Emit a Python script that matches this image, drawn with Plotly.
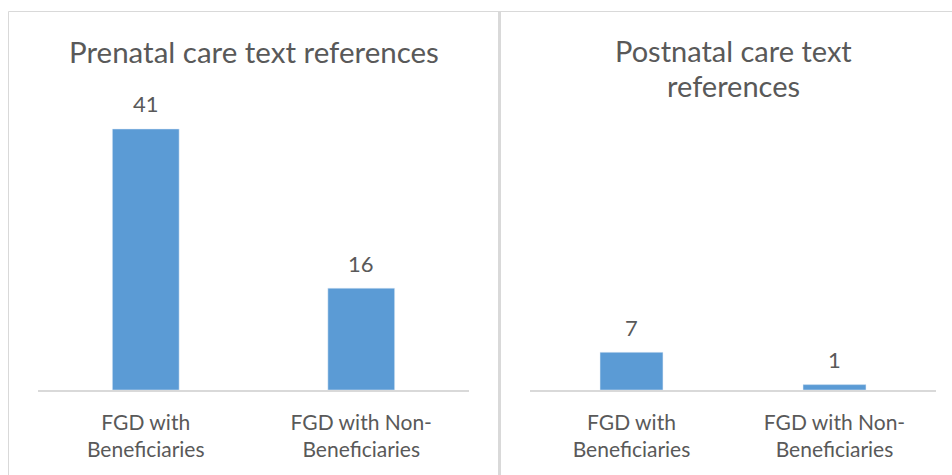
import plotly.graph_objects as go

# ---- data ----
categories = ["FGD with<br>Beneficiaries", "FGD with Non-<br>Beneficiaries"]
prenatal_values = [41, 16]
postnatal_values = [7, 1]
prenatal_title = "Prenatal care text references"
postnatal_title_lines = ["Postnatal care text", "references"]

W, H = 952, 475
BAR = "#5B9BD5"
TXT = "#595959"
GRID = "#D9D9D9"
FONT = "Lato, Carlito, 'Open Sans', sans-serif"

def px(x):
    return x / W

def py(y):
    return 1 - y / H

fig = go.Figure()
fig.add_trace(go.Bar(x=categories, y=prenatal_values, marker_color=BAR,
                     xaxis="x", yaxis="y", hoverinfo="skip"))
fig.add_trace(go.Bar(x=categories, y=postnatal_values, marker_color=BAR,
                     xaxis="x2", yaxis="y2", hoverinfo="skip"))

annotations = []
for cat, v in zip(categories, prenatal_values):
    annotations.append(dict(x=cat, y=v, xref="x", yref="y", text=str(v),
                            showarrow=False, xanchor="center", yanchor="middle", yshift=25,
                            font=dict(size=22, color=TXT, family=FONT)))
for cat, v in zip(categories, postnatal_values):
    annotations.append(dict(x=cat, y=v, xref="x2", yref="y2", text=str(v),
                            showarrow=False, xanchor="center", yanchor="middle", yshift=25,
                            font=dict(size=22, color=TXT, family=FONT)))

# titles
annotations.append(dict(x=px(254), y=py(51.5), xref="paper", yref="paper",
                        text=prenatal_title, showarrow=False, xanchor="center",
                        yanchor="middle",
                        font=dict(size=29.5, color=TXT, family=FONT)))
for i, line in enumerate(postnatal_title_lines):
    annotations.append(dict(x=px(733), y=py(50 + 35 * i), xref="paper", yref="paper",
                            text=line, showarrow=False, xanchor="center", yanchor="middle",
                            height=32,
                            font=dict(size=29, color=TXT, family=FONT)))

axis_common = dict(showgrid=False, zeroline=False, showline=True, linecolor=GRID,
                   linewidth=1.5, ticks="", ticklabelstandoff=13,
                   tickfont=dict(size=21, color=TXT, family=FONT),
                   fixedrange=True)
yaxis_common = dict(showgrid=False, zeroline=False, showline=False, showticklabels=False,
                    fixedrange=True)

shapes = [
    dict(type="rect", xref="paper", yref="paper", x0=px(8.5), x1=px(498.5),
         y0=py(490), y1=py(11.5), line=dict(color=GRID, width=1)),
    dict(type="rect", xref="paper", yref="paper", x0=px(500.5), x1=px(990),
         y0=py(490), y1=py(11.5), line=dict(color=GRID, width=1)),
    dict(type="line", xref="paper", yref="paper", x0=px(499.5), x1=px(499.5),
         y0=py(490), y1=py(11), line=dict(color=GRID, width=3)),
]

fig.update_layout(
    width=W, height=H,
    margin=dict(l=0, r=0, t=0, b=0),
    paper_bgcolor="white", plot_bgcolor="white",
    showlegend=False, bargap=0.69,
    font=dict(family=FONT, color=TXT),
    xaxis=dict(domain=[px(38), px(469)], anchor="y", **axis_common),
    yaxis=dict(domain=[py(390), py(103.5)], range=[0, 45], anchor="x", **yaxis_common),
    xaxis2=dict(domain=[px(530), px(936)], anchor="y2", **axis_common),
    yaxis2=dict(domain=[py(390), py(120.5)], range=[0, 50], anchor="x2", **yaxis_common),
    annotations=annotations,
    shapes=shapes,
)

fig.write_html("out.html", config={"displayModeBar": False},
               post_script="document.body.style.margin='0px';document.body.style.overflow='hidden';")
